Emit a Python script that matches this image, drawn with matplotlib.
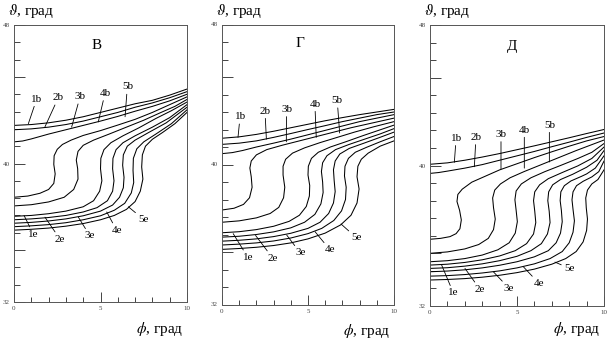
"""Three panels of phase-angle isolines (В, Г, Д) on the phi–theta plane."""

import matplotlib
matplotlib.use("Agg")
import matplotlib.pyplot as plt
from matplotlib.ticker import FixedLocator, MultipleLocator

plt.rcParams.update({
    "font.family": ["Liberation Serif", "DejaVu Serif"],
    "mathtext.fontset": "stix",
    "axes.linewidth": 0.7,
    "axes.edgecolor": "#555555",
})

# ---------------------------------------------------------------------------
# Data: (phi, theta) points for every curve, per panel
# ---------------------------------------------------------------------------

PANEL_TITLES = ["В", "Г", "Д"]
B_LABELS = ["1b", "2b", "3b", "4b", "5b"]
E_LABELS = ["1e", "2e", "3e", "4e", "5e"]

CURVES_V = [
    [(0, 42.2), (1, 42.25), (2, 42.35), (3, 42.5), (4, 42.7), (5, 42.95), (6, 43.2),
     (7, 43.45), (8, 43.65), (9, 43.95), (10, 44.3)],
    [(0, 41.95), (1, 42.0), (2, 42.1), (3, 42.25), (4, 42.45), (5, 42.7), (6, 42.95),
     (7, 43.25), (8, 43.5), (9, 43.8), (10, 44.15)],
    [(0, 41.25), (0.5, 41.3), (1, 41.42), (2, 41.7), (3, 41.95), (4, 42.2), (5, 42.45),
     (6, 42.72), (7, 43.02), (8, 43.3), (9, 43.62), (10, 44.0)],
    [(0, 38.05), (0.8, 38.12), (1.5, 38.28), (2.0, 38.5), (2.3, 38.85), (2.38, 39.4),
     (2.3, 39.95), (2.32, 40.45), (2.5, 40.82), (2.8, 41.1), (3.3, 41.35), (4, 41.62),
     (5, 41.9), (6, 42.22), (7, 42.55), (8, 42.95), (9, 43.4), (10, 43.85)],
    [(0, 37.55), (1, 37.62), (2, 37.78), (2.9, 38.05), (3.45, 38.5), (3.7, 39.1),
     (3.68, 39.7), (3.6, 40.2), (3.7, 40.7), (4.0, 41.05), (4.6, 41.35), (5.5, 41.7),
     (6.5, 42.1), (7.5, 42.5), (8.5, 42.95), (9.3, 43.3), (10, 43.7)],
    [(0, 36.95), (1, 37.0), (2, 37.1), (3, 37.25), (4, 37.5), (4.6, 37.85), (4.95, 38.4),
     (5.08, 39.0), (5.0, 39.7), (5.02, 40.3), (5.2, 40.8), (5.6, 41.2), (6.3, 41.6),
     (7.2, 42.05), (8.2, 42.6), (9.1, 43.05), (10, 43.55)],
    [(0, 36.75), (1, 36.8), (2, 36.88), (3, 37.0), (4, 37.2), (4.8, 37.45), (5.4, 37.85),
     (5.7, 38.4), (5.78, 39.0), (5.7, 39.7), (5.72, 40.3), (5.9, 40.8), (6.3, 41.2),
     (7.0, 41.6), (8.0, 42.1), (9, 42.65), (10, 43.4)],
    [(0, 36.55), (1, 36.6), (2, 36.68), (3, 36.8), (4, 36.98), (5, 37.25), (5.7, 37.6),
     (6.1, 38.05), (6.32, 38.6), (6.36, 39.2), (6.28, 39.9), (6.32, 40.5), (6.55, 41.0),
     (7.0, 41.35), (7.8, 41.8), (8.8, 42.35), (10, 43.25)],
    [(0, 36.35), (1, 36.4), (2, 36.47), (3, 36.58), (4, 36.75), (5, 36.98), (5.8, 37.3),
     (6.4, 37.7), (6.78, 38.3), (6.92, 38.9), (6.88, 39.6), (6.9, 40.3), (7.1, 40.85),
     (7.5, 41.25), (8.2, 41.7), (9.1, 42.3), (10, 43.1)],
    [(0, 36.15), (1, 36.2), (2, 36.27), (3, 36.38), (4, 36.53), (5, 36.75), (5.8, 37.0),
     (6.5, 37.35), (7.0, 37.8), (7.3, 38.4), (7.45, 39.1), (7.38, 39.8), (7.42, 40.5),
     (7.6, 41.0), (8.0, 41.4), (8.6, 41.8), (9.3, 42.3), (10, 42.95)],
]

CURVES_G = [
    [(0, 41.5), (1, 41.58), (2, 41.72), (3, 41.9), (4, 42.1), (5, 42.3), (6, 42.5),
     (7, 42.68), (8, 42.85), (9, 43.0), (10, 43.15)],
    [(0, 41.15), (1, 41.22), (2, 41.35), (3, 41.55), (4, 41.77), (5, 42.0), (6, 42.22),
     (7, 42.45), (8, 42.65), (9, 42.85), (10, 43.0)],
    [(0, 40.62), (0.6, 40.68), (1.2, 40.8), (2, 41.0), (3, 41.22), (4, 41.45), (5, 41.7),
     (6, 41.95), (7, 42.2), (8, 42.45), (9, 42.65), (10, 42.85)],
    [(0, 37.4), (0.7, 37.5), (1.25, 37.72), (1.6, 38.1), (1.75, 38.7), (1.7, 39.3),
     (1.62, 39.8), (1.7, 40.2), (2.0, 40.55), (2.6, 40.85), (3.5, 41.1), (4.5, 41.35),
     (5.5, 41.6), (6.5, 41.85), (7.5, 42.1), (8.5, 42.32), (10, 42.65)],
    [(0, 36.7), (1, 36.78), (2, 36.95), (2.8, 37.2), (3.3, 37.55), (3.58, 38.1),
     (3.65, 38.7), (3.55, 39.4), (3.55, 39.9), (3.7, 40.3), (4.1, 40.65), (4.8, 40.95),
     (5.7, 41.25), (6.7, 41.55), (7.7, 41.85), (8.8, 42.15), (10, 42.45)],
    [(0, 36.1), (1, 36.16), (2, 36.28), (3, 36.47), (3.9, 36.75), (4.5, 37.1), (4.9, 37.6),
     (5.08, 38.2), (5.1, 38.8), (5.0, 39.4), (5.02, 39.9), (5.2, 40.35), (5.6, 40.7),
     (6.3, 41.0), (7.2, 41.3), (8.2, 41.65), (9.1, 41.95), (10, 42.25)],
    [(0, 35.85), (1, 35.9), (2, 36.0), (3, 36.15), (4, 36.38), (4.8, 36.7), (5.4, 37.15),
     (5.75, 37.75), (5.88, 38.4), (5.85, 39.0), (5.78, 39.6), (5.85, 40.1), (6.1, 40.5),
     (6.6, 40.85), (7.4, 41.15), (8.3, 41.45), (9.2, 41.75), (10, 42.05)],
    [(0, 35.62), (1, 35.67), (2, 35.75), (3, 35.88), (4, 36.07), (5, 36.35), (5.7, 36.7),
     (6.2, 37.2), (6.48, 37.8), (6.58, 38.45), (6.52, 39.1), (6.48, 39.7), (6.58, 40.2),
     (6.85, 40.6), (7.4, 40.92), (8.2, 41.2), (9.1, 41.52), (10, 41.85)],
    [(0, 35.4), (1, 35.45), (2, 35.52), (3, 35.63), (4, 35.8), (5, 36.05), (5.8, 36.35),
     (6.5, 36.8), (6.95, 37.35), (7.18, 38.0), (7.22, 38.7), (7.12, 39.35), (7.15, 39.9),
     (7.35, 40.35), (7.75, 40.7), (8.4, 40.98), (9.2, 41.3), (10, 41.6)],
    [(0, 35.15), (1, 35.2), (2, 35.27), (3, 35.37), (4, 35.52), (5, 35.75), (6, 36.08),
     (6.9, 36.55), (7.5, 37.1), (7.85, 37.8), (7.97, 38.6), (7.85, 39.3), (7.9, 39.9),
     (8.1, 40.3), (8.5, 40.65), (9.2, 41.05), (10, 41.35)],
]

CURVES_D = [
    [(0, 40.07), (1, 40.15), (2, 40.3), (3, 40.48), (4, 40.68), (5, 40.9), (6, 41.12),
     (7, 41.35), (8, 41.58), (9, 41.82), (10, 42.05)],
    [(0, 39.55), (0.5, 39.6), (1, 39.68), (2, 39.85), (3, 40.05), (4, 40.3), (5, 40.55),
     (6, 40.8), (7, 41.07), (8, 41.33), (9, 41.6), (10, 41.85)],
    [(0, 35.8), (0.6, 35.85), (1.15, 35.95), (1.5, 36.12), (1.72, 36.4), (1.8, 36.9),
     (1.7, 37.45), (1.55, 37.95), (1.6, 38.35), (1.85, 38.65), (2.4, 39.05), (3.2, 39.4),
     (4.0, 39.75), (5, 40.1), (6, 40.45), (7, 40.78), (8, 41.1), (9, 41.4), (10, 41.65)],
    [(0, 35.0), (1, 35.08), (2, 35.25), (2.8, 35.5), (3.35, 35.85), (3.65, 36.35),
     (3.75, 36.95), (3.65, 37.6), (3.6, 38.15), (3.72, 38.6), (4.05, 38.95), (4.6, 39.3),
     (5.4, 39.65), (6.4, 40.05), (7.4, 40.45), (8.4, 40.85), (9.2, 41.15), (10, 41.45)],
    [(0, 34.52), (1, 34.58), (2, 34.7), (3, 34.9), (3.9, 35.2), (4.55, 35.6), (4.9, 36.15),
     (5.02, 36.8), (4.95, 37.45), (4.88, 38.05), (4.95, 38.55), (5.25, 38.95), (5.8, 39.3),
     (6.6, 39.65), (7.5, 40.0), (8.5, 40.4), (9.3, 40.75), (10, 41.25)],
    [(0, 34.33), (1, 34.38), (2, 34.48), (3, 34.63), (4, 34.85), (4.9, 35.15), (5.55, 35.55),
     (5.95, 36.1), (6.08, 36.75), (6.02, 37.4), (5.95, 38.0), (6.02, 38.5), (6.3, 38.9),
     (6.8, 39.25), (7.6, 39.6), (8.5, 39.98), (9.3, 40.4), (10, 41.05)],
    [(0, 34.14), (1, 34.18), (2, 34.27), (3, 34.4), (4, 34.58), (5, 34.83), (5.8, 35.15),
     (6.4, 35.55), (6.75, 36.1), (6.9, 36.75), (6.85, 37.4), (6.77, 38.0), (6.82, 38.5),
     (7.05, 38.9), (7.5, 39.2), (8.2, 39.5), (9.0, 39.9), (9.6, 40.3), (10, 40.85)],
    [(0, 33.95), (1, 33.99), (2, 34.06), (3, 34.17), (4, 34.32), (5, 34.52), (6, 34.8),
     (6.8, 35.15), (7.25, 35.6), (7.5, 36.15), (7.6, 36.8), (7.55, 37.45), (7.48, 38.0),
     (7.52, 38.5), (7.72, 38.85), (8.1, 39.12), (8.7, 39.38), (9.0, 39.52), (9.5, 39.85),
     (10, 40.55)],
    [(0, 33.7), (1, 33.73), (2, 33.79), (3, 33.88), (4, 34.0), (5, 34.17), (6, 34.4),
     (6.9, 34.7), (7.6, 35.1), (8.0, 35.6), (8.22, 36.2), (8.3, 36.85), (8.22, 37.5),
     (8.16, 38.05), (8.22, 38.5), (8.42, 38.85), (8.8, 39.1), (9.3, 39.35), (9.7, 39.65),
     (10, 40.25)],
    [(0, 33.48), (1, 33.51), (2, 33.56), (3, 33.64), (4, 33.75), (5, 33.9), (6, 34.1),
     (7, 34.38), (7.8, 34.7), (8.4, 35.1), (8.8, 35.65), (9.0, 36.3), (9.05, 36.95),
     (8.98, 37.6), (8.95, 38.15), (9.05, 38.6), (9.3, 38.95), (9.65, 39.2), (10, 39.75)],
]

# label text anchors and leader tips, (phi, theta)
B_TEXT = [
    [(1.31, 43.72), (2.56, 43.8), (3.82, 43.86), (5.26, 44.05), (6.55, 44.42)],
    [(1.05, 42.73), (2.5, 43.05), (3.75, 43.15), (5.4, 43.45), (6.7, 43.65)],
    [(1.5, 41.55), (2.64, 41.6), (4.08, 41.77), (5.42, 42.02), (6.86, 42.3)],
]
B_TIP = [
    [(0.83, 42.3), (1.79, 42.12), (3.33, 42.1), (4.87, 42.4), (6.42, 42.7)],
    [(0.93, 41.55), (2.58, 41.45), (3.74, 41.3), (5.48, 41.55), (6.84, 41.8)],
    [(1.4, 40.18), (2.55, 39.93), (4.08, 39.8), (5.42, 39.85), (6.86, 40.2)],
]
E_TEXT = [
    [(1.12, 35.92), (2.66, 35.63), (4.39, 35.82), (5.93, 36.15), (7.48, 36.78)],
    [(1.5, 34.7), (2.95, 34.65), (4.55, 34.95), (6.28, 35.12), (7.83, 35.8)],
    [(1.34, 32.75), (2.87, 32.95), (4.55, 33.0), (6.27, 33.28), (8.0, 34.15)],
]
E_TIP = [
    [(0.58, 37.0), (1.79, 36.9), (3.72, 36.9), (5.36, 37.2), (6.61, 37.5)],
    [(0.65, 36.05), (1.95, 35.95), (3.76, 35.97), (5.41, 36.16), (6.92, 36.6)],
    [(0.67, 34.33), (2.01, 34.14), (3.64, 33.95), (5.36, 34.24), (7.18, 34.5)],
]

TITLE_POS = [(4.78, 46.84), (4.53, 46.93), (4.7, 46.77)]
Y_TICKS = [32, 35, 40, 45, 48]
Y_TICKLABELS = ["32", "", "40", "", "48"]
X_TICKS = [0, 5, 10]
X_TICKLABELS = ["0", "5", "10"]

# ---------------------------------------------------------------------------
# Layout (pixels of the 607x341 canvas)
# ---------------------------------------------------------------------------

W, H = 607, 341
AX_PX = [(14, 25, 173, 277), (222, 24.5, 172, 280), (430, 25, 174, 281)]  # left, top, w, h
PHI_LABEL_Y = [329, 331, 329]

fig = plt.figure(figsize=(W / 100, H / 100), dpi=100)

for i, curves in enumerate([CURVES_V, CURVES_G, CURVES_D]):
    left, top, w, h = AX_PX[i]
    ax = fig.add_axes([left / W, (H - top - h) / H, w / W, h / H])

    for pts in curves:
        ax.plot([p[0] for p in pts], [p[1] for p in pts], color="black", lw=0.75)

    for lab, txt, tip in zip(B_LABELS + E_LABELS, B_TEXT[i] + E_TEXT[i], B_TIP[i] + E_TIP[i]):
        ax.annotate(lab, xy=tip, xytext=txt, fontsize=8, ha="center", va="center",
                    arrowprops=dict(arrowstyle="-", lw=0.6, color="black",
                                    shrinkA=0, shrinkB=0))

    ax.text(*TITLE_POS[i], PANEL_TITLES[i], fontsize=11, ha="center", va="center")

    ax.set_xlim(0, 10)
    ax.set_ylim(32, 48)
    ax.xaxis.set_major_locator(FixedLocator(X_TICKS))
    ax.set_xticklabels(X_TICKLABELS)
    ax.xaxis.set_minor_locator(MultipleLocator(1))
    ax.yaxis.set_major_locator(FixedLocator(Y_TICKS))
    ax.set_yticklabels(Y_TICKLABELS)
    ax.yaxis.set_minor_locator(MultipleLocator(1))
    ax.tick_params(which="both", direction="in", colors="#444444",
                   labelsize=5, pad=3, width=0.7)
    ax.tick_params(axis="y", which="major", length=8)
    ax.tick_params(axis="y", which="minor", length=4.5)
    ax.tick_params(axis="x", which="major", length=7)
    ax.tick_params(axis="x", which="minor", length=3.5)

    fig.text((left - 6) / W, 1 - 11 / H, r"$\vartheta$, град", fontsize=11,
             ha="left", va="center")
    fig.text((left + w - 4) / W, 1 - PHI_LABEL_Y[i] / H, r"$\phi$, град", fontsize=11,
             ha="right", va="center")

fig.savefig("out.png", dpi=100)
